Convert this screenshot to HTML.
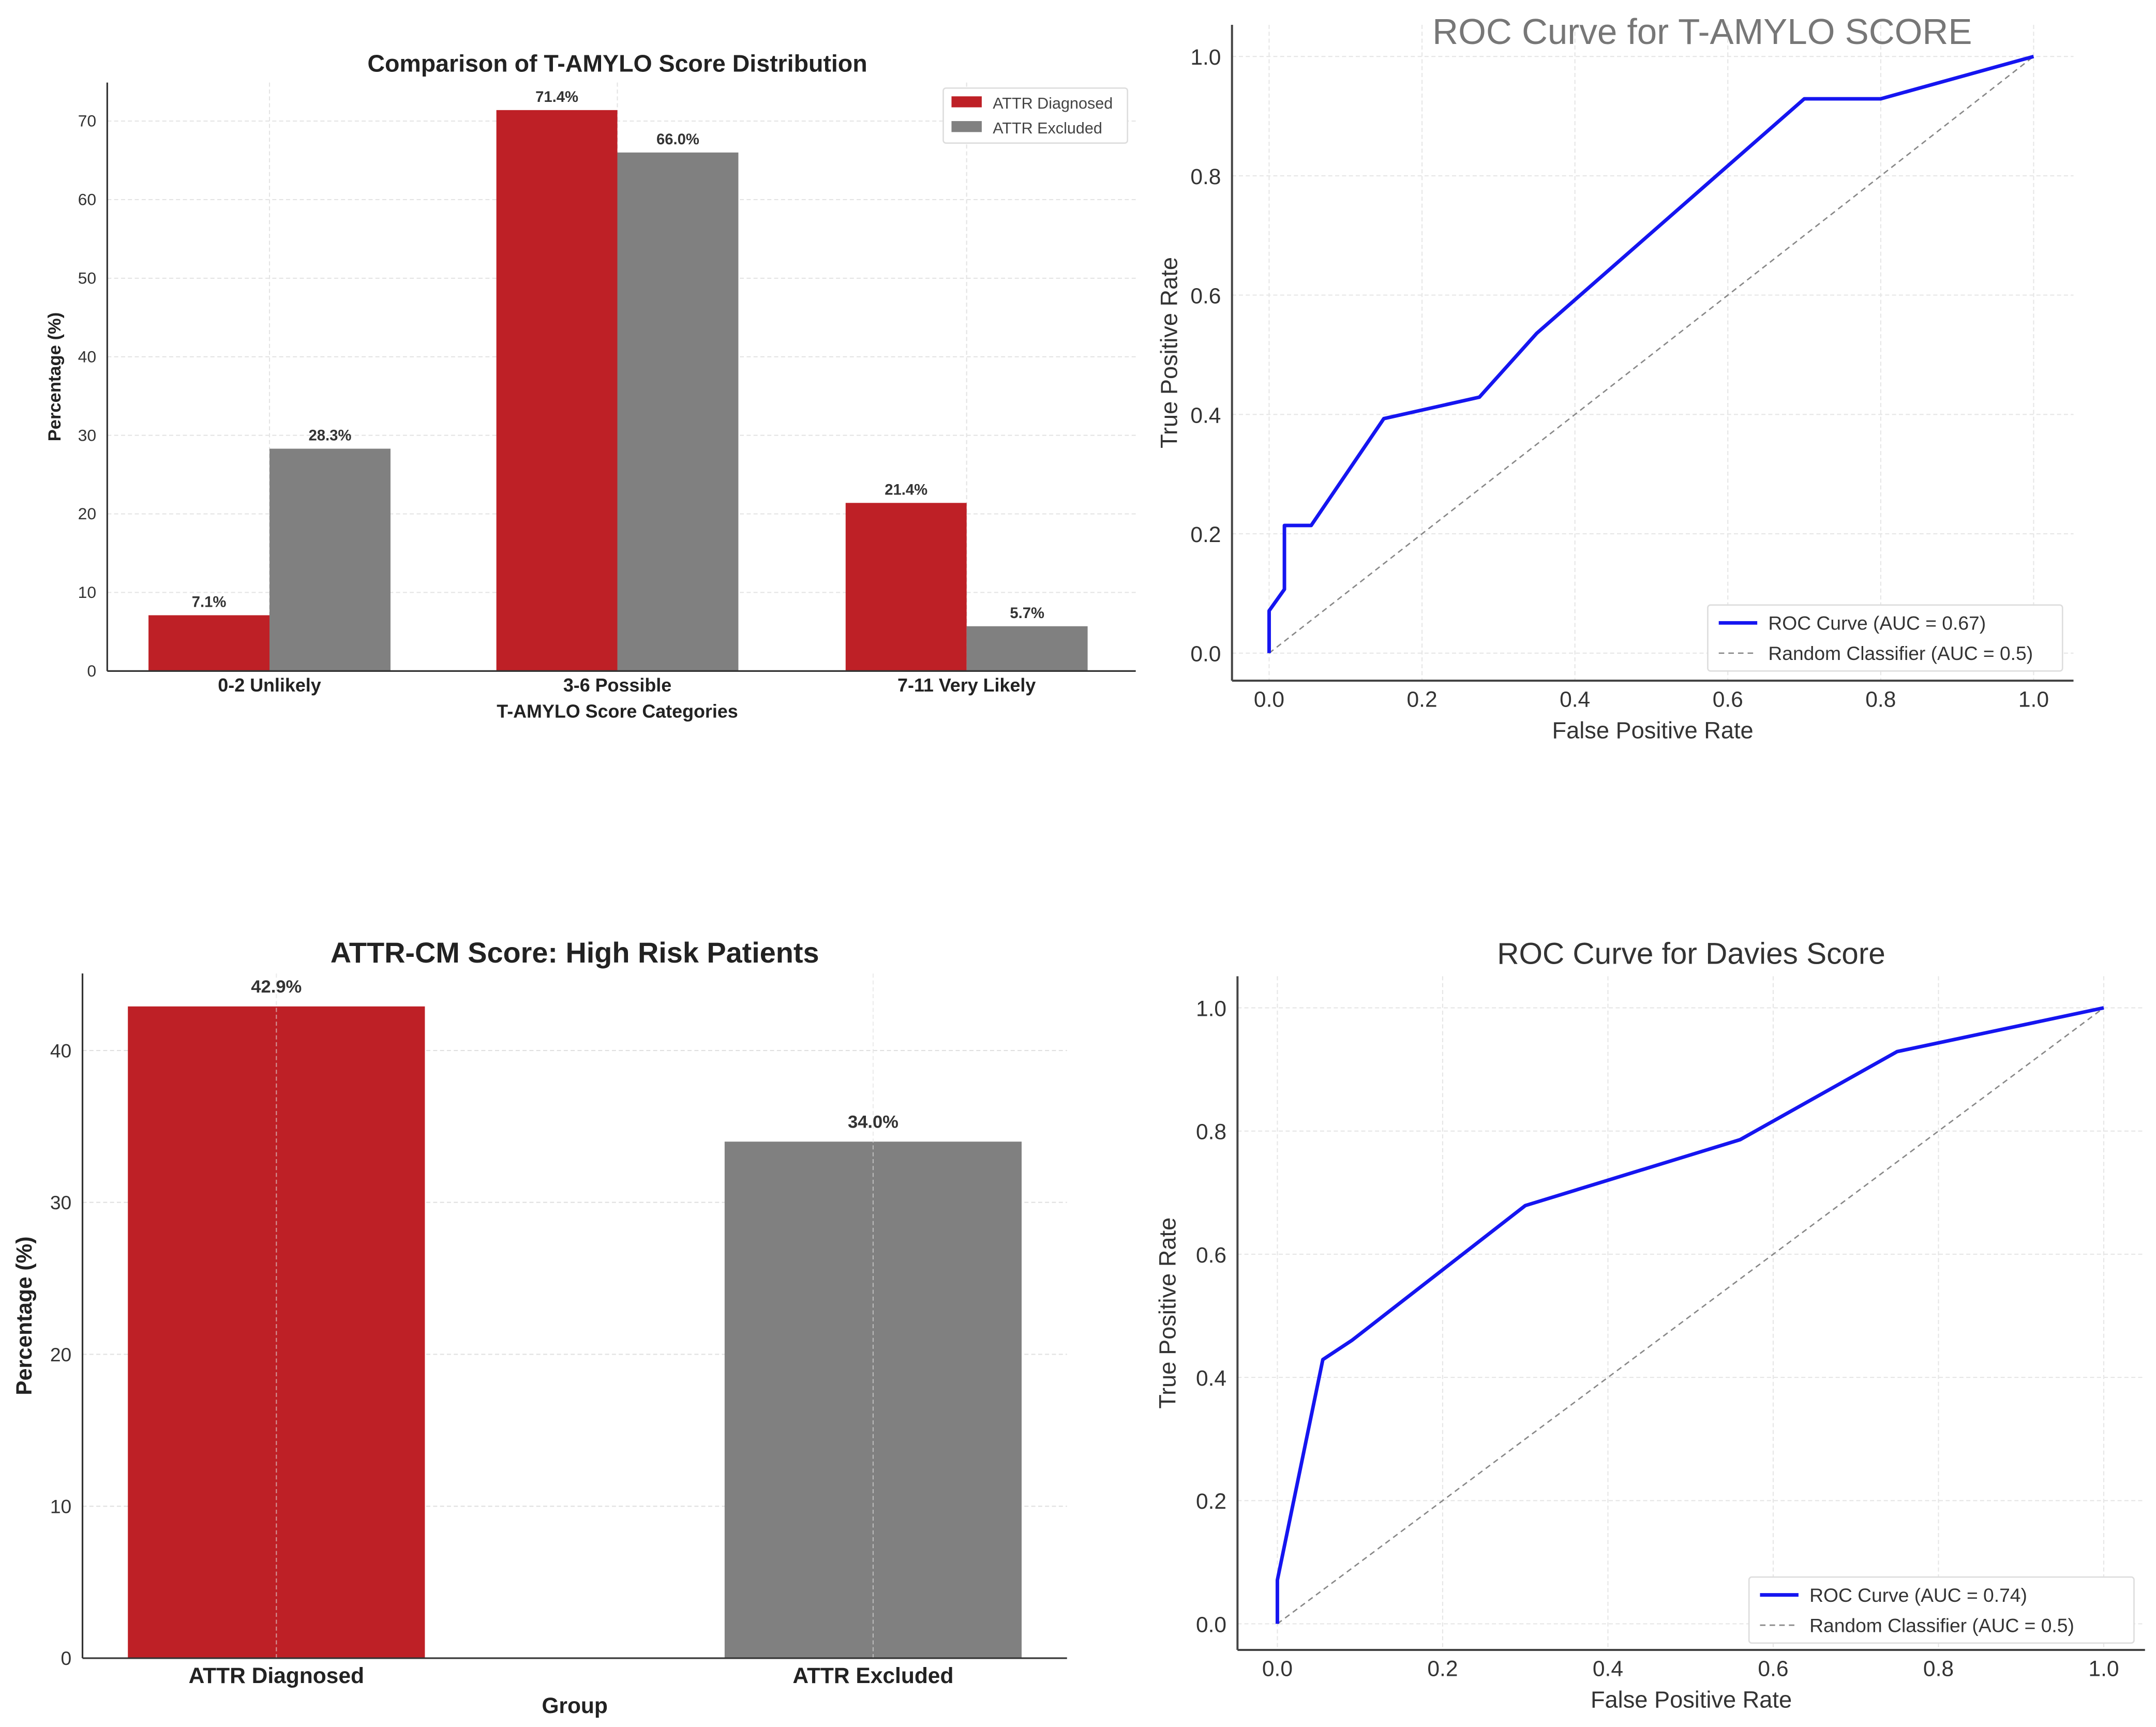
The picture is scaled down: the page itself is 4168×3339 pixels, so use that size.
<!DOCTYPE html>
<html><head><meta charset="utf-8"><style>
html,body{margin:0;padding:0;background:#fff}
svg{display:block}
text{font-family:"Liberation Sans","DejaVu Sans",sans-serif}
</style></head><body>
<svg id="fig" width="4168" height="3339" viewBox="0 0 1568 1256" xmlns="http://www.w3.org/2000/svg">
<rect width="1568" height="1256" fill="#fff"/>
<g id="p1"></g>
<g id="p2"></g>
<g id="p3"></g>
<g id="p4"></g>
</svg>
<script>
// ---- data ----
const distCategories = ["0-2 Unlikely","3-6 Possible","7-11 Very Likely"];
const distDiagnosed = [7.1, 71.4, 21.4];
const distExcluded = [28.3, 66.0, 5.7];
const distTicks = [0,10,20,30,40,50,60,70];
const roc1Fpr = [0,0,0.02,0.02,0.055,0.15,0.275,0.35,0.70,0.80,1.0];
const roc1Tpr = [0,0.071,0.107,0.214,0.214,0.393,0.429,0.536,0.929,0.929,1.0];
const rocTicks = [0,0.2,0.4,0.6,0.8,1.0];
const riskGroups = ["ATTR Diagnosed","ATTR Excluded"];
const riskValues = [42.9, 34.0];
const riskTicks = [0,10,20,30,40];
const roc2Fpr = [0,0,0.055,0.09,0.30,0.56,0.75,1.0];
const roc2Tpr = [0,0.071,0.429,0.46,0.679,0.786,0.929,1.0];

const NS="http://www.w3.org/2000/svg";
function mk(parent,tag,attrs,txt){const e=document.createElementNS(NS,tag);for(const k in attrs)e.setAttribute(k,attrs[k]);if(txt!==undefined)e.textContent=txt;parent.appendChild(e);return e;}
const RED="#be2026", GRAY="#808080";

// ---- Panel 1 ----
(function(){
 const g=document.getElementById('p1');
 const L=78,R=826,T=60,B=488;
 const y=v=>B-(v/70)*(B-88);
 const cx=[196,449,703], bw=88;
 distTicks.forEach(t=>{
  const gl=mk(g,'line',{x1:L,x2:R,y1:y(t),y2:y(t),stroke:'#e4e4e4','stroke-dasharray':'3,2','stroke-width':0.8});
  
  
  const tl=mk(g,'text',{x:L-8,y:y(t)+4,'font-size':12,'text-anchor':'end',fill:'#333'},String(t));
  
  
 });
 cx.forEach(c=>{mk(g,'line',{x1:c,x2:c,y1:T,y2:B,stroke:'#e4e4e4','stroke-dasharray':'3,2','stroke-width':0.8});});
 distCategories.forEach((c,i)=>{
  const b1=mk(g,'rect',{x:cx[i]-bw,y:y(distDiagnosed[i]),width:bw,height:B-y(distDiagnosed[i]),fill:RED});
  
  
  const b2=mk(g,'rect',{x:cx[i],y:y(distExcluded[i]),width:bw,height:B-y(distExcluded[i]),fill:GRAY});
  
  
  const v1=mk(g,'text',{x:cx[i]-bw/2,y:y(distDiagnosed[i])-6,'font-size':11,'font-weight':'bold','text-anchor':'middle',fill:'#333'},distDiagnosed[i].toFixed(1)+'%');
  
  
  const v2=mk(g,'text',{x:cx[i]+bw/2,y:y(distExcluded[i])-6,'font-size':11,'font-weight':'bold','text-anchor':'middle',fill:'#333'},distExcluded[i].toFixed(1)+'%');
  
  
  const xl=mk(g,'text',{x:cx[i],y:503,'font-size':13.5,'font-weight':'bold','text-anchor':'middle',fill:'#222'},c);
  
  
 });
 mk(g,'line',{x1:L,x2:L,y1:T,y2:B,stroke:'#333','stroke-width':1.2});
 mk(g,'line',{x1:L,x2:R,y1:B,y2:B,stroke:'#333','stroke-width':1.2});
 const t=mk(g,'text',{x:449,y:52,'font-size':17.5,'font-weight':'bold','text-anchor':'middle',fill:'#222'},'Comparison of T-AMYLO Score Distribution');
 
 const xt=mk(g,'text',{x:449,y:522,'font-size':13.5,'font-weight':'bold','text-anchor':'middle',fill:'#222'},'T-AMYLO Score Categories');
 
 const yt=mk(g,'text',{x:0,y:0,'font-size':13,'font-weight':'bold','text-anchor':'middle',fill:'#222',transform:'translate(44,274) rotate(-90)'},'Percentage (%)');
 
 const lg=mk(g,'g',{});
 
 mk(lg,'rect',{x:686,y:64,width:134,height:40,fill:'#fff',stroke:'#ddd',rx:2});
 mk(lg,'rect',{x:692,y:70,width:22,height:8,fill:RED});
 mk(lg,'text',{x:722,y:79,'font-size':11.5,fill:'#444'},'ATTR Diagnosed');
 mk(lg,'rect',{x:692,y:88,width:22,height:8,fill:GRAY});
 mk(lg,'text',{x:722,y:97,'font-size':11.5,fill:'#444'},'ATTR Excluded');
})();

// ---- ROC helper ----
function roc(g,o,fpr,tpr,auc){
 const x=v=>o.x0+v*(o.x1-o.x0), y=v=>o.y0-v*(o.y0-o.y1);
 rocTicks.forEach(t=>{
  mk(g,'line',{x1:o.L,x2:o.R,y1:y(t),y2:y(t),stroke:'#e6e6e6','stroke-dasharray':'3,2','stroke-width':0.8});
  mk(g,'line',{x1:x(t),x2:x(t),y1:o.T,y2:o.B,stroke:'#e6e6e6','stroke-dasharray':'3,2','stroke-width':0.8});
  const xl=mk(g,'text',{x:x(t),y:o.B+19,'font-size':16,'text-anchor':'middle',fill:'#333'},t.toFixed(1));
  
  const yl=mk(g,'text',{x:o.L-8,y:y(t)+6,'font-size':16,'text-anchor':'end',fill:'#333'},t.toFixed(1));
  
 });
 mk(g,'line',{x1:o.L,x2:o.L,y1:o.T,y2:o.B,stroke:'#444','stroke-width':1.5});
 mk(g,'line',{x1:o.L,x2:o.R,y1:o.B,y2:o.B,stroke:'#444','stroke-width':1.5});
 const d=mk(g,'line',{x1:x(0),y1:y(0),x2:x(1),y2:y(1),stroke:'#888','stroke-dasharray':'4,3','stroke-width':1});
 
 const pts=fpr.map((f,i)=>x(f)+','+y(tpr[i])).join(' ');
 const pl=mk(g,'polyline',{points:pts,fill:'none',stroke:'#1515f0','stroke-width':2.6,'stroke-linejoin':'round'});
 
 const t=mk(g,'text',{x:o.tx,y:o.ty,'font-size':o.ts,'text-anchor':'middle',fill:o.tc},o.title);
 
 const xt=mk(g,'text',{x:(o.L+o.R)/2,y:o.B+42,'font-size':17,'text-anchor':'middle',fill:'#333'},'False Positive Rate');
 
 const yt=mk(g,'text',{x:0,y:0,'font-size':17,'text-anchor':'middle',fill:'#333',transform:'translate('+o.yx+','+((o.T+o.B)/2)+') rotate(-90)'},'True Positive Rate');
 
 const lg=mk(g,'g',{});
 
 const lx=o.lx,ly=o.ly;
 mk(lg,'rect',{x:lx,y:ly,width:o.lw,height:48,fill:'#fff',stroke:'#ddd',rx:2});
 mk(lg,'line',{x1:lx+8,x2:lx+36,y1:ly+13,y2:ly+13,stroke:'#1515f0','stroke-width':2.6});
 mk(lg,'text',{x:lx+44,y:ly+18,'font-size':14,fill:'#333'},'ROC Curve (AUC = '+auc+')');
 mk(lg,'line',{x1:lx+8,x2:lx+36,y1:ly+35,y2:ly+35,stroke:'#888','stroke-dasharray':'4,3','stroke-width':1});
 mk(lg,'text',{x:lx+44,y:ly+40,'font-size':14,fill:'#333'},'Random Classifier (AUC = 0.5)');
}
roc(document.getElementById('p2'),{L:896,R:1508,T:18,B:495,x0:923,x1:1479,y0:475,y1:41,title:'ROC Curve for T-AMYLO SCORE',tx:1238,ty:32,ts:26,tc:'#777',yx:856,lx:1242,ly:440,lw:258},roc1Fpr,roc1Tpr,'0.67');
roc(document.getElementById('p4'),{L:900,R:1560,T:710,B:1200,x0:929,x1:1530,y0:1181,y1:733,title:'ROC Curve for Davies Score',tx:1230,ty:701,ts:22,tc:'#333',yx:855,lx:1272,ly:1147,lw:280},roc2Fpr,roc2Tpr,'0.74');

// ---- Panel 3 ----
(function(){
 const g=document.getElementById('p3');
 const L=60,R=776,T=708,B=1206;
 const y=v=>B-(v/40)*(B-764);
 const cx=[201,635],bw=216;
 riskTicks.forEach(t=>{
  mk(g,'line',{x1:L,x2:R,y1:y(t),y2:y(t),stroke:'#e0e0e0','stroke-dasharray':'3,2','stroke-width':0.8});
  const tl=mk(g,'text',{x:L-8,y:y(t)+5,'font-size':14,'text-anchor':'end',fill:'#333'},String(t));
  
 });
 riskGroups.forEach((c,i)=>{
  const b=mk(g,'rect',{x:cx[i]-bw/2,y:y(riskValues[i]),width:bw,height:B-y(riskValues[i]),fill:i===0?RED:GRAY});
  
  
  mk(g,'line',{x1:cx[i],x2:cx[i],y1:T,y2:B,stroke:'#e0e0e0','stroke-dasharray':'3,2','stroke-width':0.8,opacity:0.6});
  const v=mk(g,'text',{x:cx[i],y:y(riskValues[i])-10,'font-size':13,'font-weight':'bold','text-anchor':'middle',fill:'#333'},riskValues[i].toFixed(1)+'%');
  
  const xl=mk(g,'text',{x:cx[i],y:1224,'font-size':16,'font-weight':'bold','text-anchor':'middle',fill:'#222'},c);
  
 });
 mk(g,'line',{x1:L,x2:L,y1:T,y2:B,stroke:'#333','stroke-width':1.2});
 mk(g,'line',{x1:L,x2:R,y1:B,y2:B,stroke:'#333','stroke-width':1.2});
 const t=mk(g,'text',{x:418,y:700,'font-size':21,'font-weight':'bold','text-anchor':'middle',fill:'#222'},'ATTR-CM Score: High Risk Patients');
 
 const xt=mk(g,'text',{x:418,y:1246,'font-size':16,'font-weight':'bold','text-anchor':'middle',fill:'#222'},'Group');
 
 const yt=mk(g,'text',{x:0,y:0,'font-size':16,'font-weight':'bold','text-anchor':'middle',fill:'#222',transform:'translate(23,957) rotate(-90)'},'Percentage (%)');
 
})();
</script>
</body></html>
